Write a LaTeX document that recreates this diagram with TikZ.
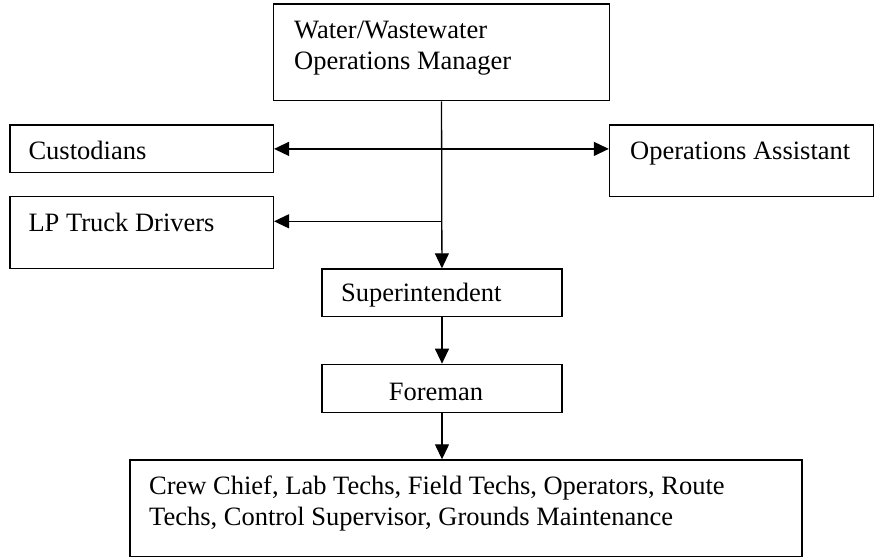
\documentclass[tikz,border=0pt]{standalone}
\usepackage{fontspec}
\setmainfont{Liberation Serif}
\usetikzlibrary{arrows.meta,calc}
\begin{document}
\begin{tikzpicture}[x=1pt,y=-1pt,>={Triangle[length=15pt,width=14pt]},line join=miter]
\useasboundingbox[fill=white] (0,0) rectangle (875,559);
\tikzset{orgbox/.style={draw=black,line width=1.3pt,inner sep=0pt},orgtext/.style={anchor=base west,inner sep=0pt,font=\fontsize{26.5}{30.5}\selectfont,align=left},link/.style={draw=black,line width=1.3pt}}
\node[orgbox,minimum width=336pt,minimum height=96.7pt] (mgr) at (441.4,52.3) {};
\node[orgbox,minimum width=263.4pt,minimum height=47.7pt] (cust) at (141.7,148.9) {};
\node[orgbox,minimum width=263.9pt,minimum height=71.7pt] (opsa) at (741.4,160.9) {};
\node[orgbox,minimum width=263.4pt,minimum height=71.6pt] (lp) at (141.7,232.5) {};
\node[orgbox,minimum width=240pt,minimum height=47.7pt] (sup) at (442,292.8) {};
\node[orgbox,minimum width=240pt,minimum height=48.4pt] (fore) at (442,388.5) {};
\node[orgbox,minimum width=672pt,minimum height=96.7pt] (crew) at (466,508.3) {};
\node[orgtext] (mgrtxt) at ($(mgr.north west)+(21.2,66)$) {Water/Wastewater\\Operations Manager};
\node[orgtext] (custtxt) at ($(cust.north west)+(19,35)$) {Custodians};
\node[orgtext] (opsatxt) at ($(opsa.north west)+(21.2,35)$) {Operations Assistant};
\node[orgtext] (lptxt) at ($(lp.north west)+(19,35.3)$) {LP Truck Drivers};
\node[orgtext] (suptxt) at ($(sup.north west)+(19.5,32.7)$) {Superintendent};
\node[orgtext,anchor=base] (foretxt) at (436,400) {Foreman};
\node[orgtext] (crewtxt) at ($(crew.north west)+(19.6,66)$) {Crew Chief, Lab Techs, Field Techs, Operators, Route\\Techs, Control Supervisor, Grounds Maintenance};
\coordinate (lpjoin) at ($(mgr.south)+(0,120)$);
\draw[link,->] (mgr) -- (sup);
\draw[link,<->] (cust.east) -- (cust.east -| opsa.west);
\draw[link,->] (lpjoin) -- (lpjoin -| lp.east);
\draw[link,->] (sup) -- (fore);
\draw[link,->] (fore) -- (fore.south |- crew.north);
\end{tikzpicture}
\end{document}
